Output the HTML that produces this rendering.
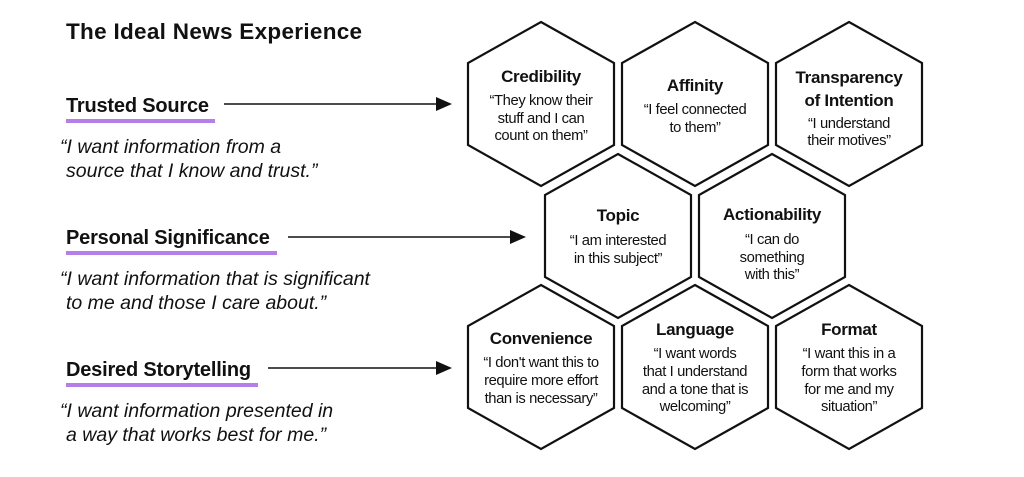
<!DOCTYPE html>
<html><head><meta charset="utf-8"><style>
html,body{margin:0;padding:0;background:#fff;}
svg{display:block;font-family:"Liberation Sans",Arial,sans-serif;}
.t{font-weight:bold;font-size:17px;text-anchor:middle;fill:#111;letter-spacing:-0.3px;}
.b{font-size:14.8px;text-anchor:middle;fill:#111;letter-spacing:-0.4px;}
.h{font-weight:bold;font-size:20px;fill:#111;letter-spacing:-0.2px;}
.q{font-style:italic;font-size:19.5px;fill:#111;letter-spacing:0px;}
</style></head><body>
<svg width="1024" height="477" viewBox="0 0 1024 477">
<defs><polygon id="hx" points="0,-82 73,-41 73,41 0,82 -73,41 -73,-41" fill="#fff" stroke="#111" stroke-width="2.2"/></defs>
<text x="66" y="39" style="font-weight:bold;font-size:22.5px;fill:#111;letter-spacing:0.3px">The Ideal News Experience</text>

<text class="h" x="66" y="112">Trusted Source</text>
<rect x="66" y="119" width="149" height="4" fill="#b57ee8"/>
<line x1="224" y1="104" x2="438" y2="104" stroke="#111" stroke-width="1.5"/>
<polygon points="436,97 452,104 436,111" fill="#111"/>
<text class="q" x="60" y="153">“I want information from a</text>
<text class="q" x="66" y="177">source that I know and trust.”</text>

<text class="h" x="66" y="244">Personal Significance</text>
<rect x="66" y="251" width="211" height="4" fill="#b57ee8"/>
<line x1="288" y1="237" x2="512" y2="237" stroke="#111" stroke-width="1.5"/>
<polygon points="510,230 526,237 510,244" fill="#111"/>
<text class="q" x="60" y="285">“I want information that is significant</text>
<text class="q" x="66" y="309">to me and those I care about.”</text>

<text class="h" x="66" y="376">Desired Storytelling</text>
<rect x="66" y="383" width="192" height="4" fill="#b57ee8"/>
<line x1="268" y1="368" x2="438" y2="368" stroke="#111" stroke-width="1.5"/>
<polygon points="436,361 452,368 436,375" fill="#111"/>
<text class="q" x="60" y="417">“I want information presented in</text>
<text class="q" x="66" y="441">a way that works best for me.”</text>

<use href="#hx" x="541" y="104"/><use href="#hx" x="695" y="104"/><use href="#hx" x="849" y="104"/>
<use href="#hx" x="618" y="236"/><use href="#hx" x="772" y="236"/>
<use href="#hx" x="541" y="367"/><use href="#hx" x="695" y="367"/><use href="#hx" x="849" y="367"/>

<text class="t" x="541" y="82">Credibility</text>
<text class="b" x="541" y="105">“They know their</text>
<text class="b" x="541" y="123">stuff and I can</text>
<text class="b" x="541" y="140">count on them”</text>

<text class="t" x="695" y="91">Affinity</text>
<text class="b" x="695" y="114">“I feel connected</text>
<text class="b" x="695" y="132">to them”</text>

<text class="t" x="849" y="83">Transparency</text>
<text class="t" x="849" y="106">of Intention</text>
<text class="b" x="849" y="128">“I understand</text>
<text class="b" x="849" y="145">their motives”</text>

<text class="t" x="618" y="221">Topic</text>
<text class="b" x="618" y="245">“I am interested</text>
<text class="b" x="618" y="263">in this subject”</text>

<text class="t" x="772" y="220">Actionability</text>
<text class="b" x="772" y="244">“I can do</text>
<text class="b" x="772" y="262">something</text>
<text class="b" x="772" y="279">with this”</text>

<text class="t" x="541" y="344">Convenience</text>
<text class="b" x="541" y="367">“I don't want this to</text>
<text class="b" x="541" y="385">require more effort</text>
<text class="b" x="541" y="403">than is necessary”</text>

<text class="t" x="695" y="335">Language</text>
<text class="b" x="695" y="358">“I want words</text>
<text class="b" x="695" y="376">that I understand</text>
<text class="b" x="695" y="394">and a tone that is</text>
<text class="b" x="695" y="411">welcoming”</text>

<text class="t" x="849" y="335">Format</text>
<text class="b" x="849" y="358">“I want this in a</text>
<text class="b" x="849" y="376">form that works</text>
<text class="b" x="849" y="394">for me and my</text>
<text class="b" x="849" y="411">situation”</text>
</svg>
</body></html>
